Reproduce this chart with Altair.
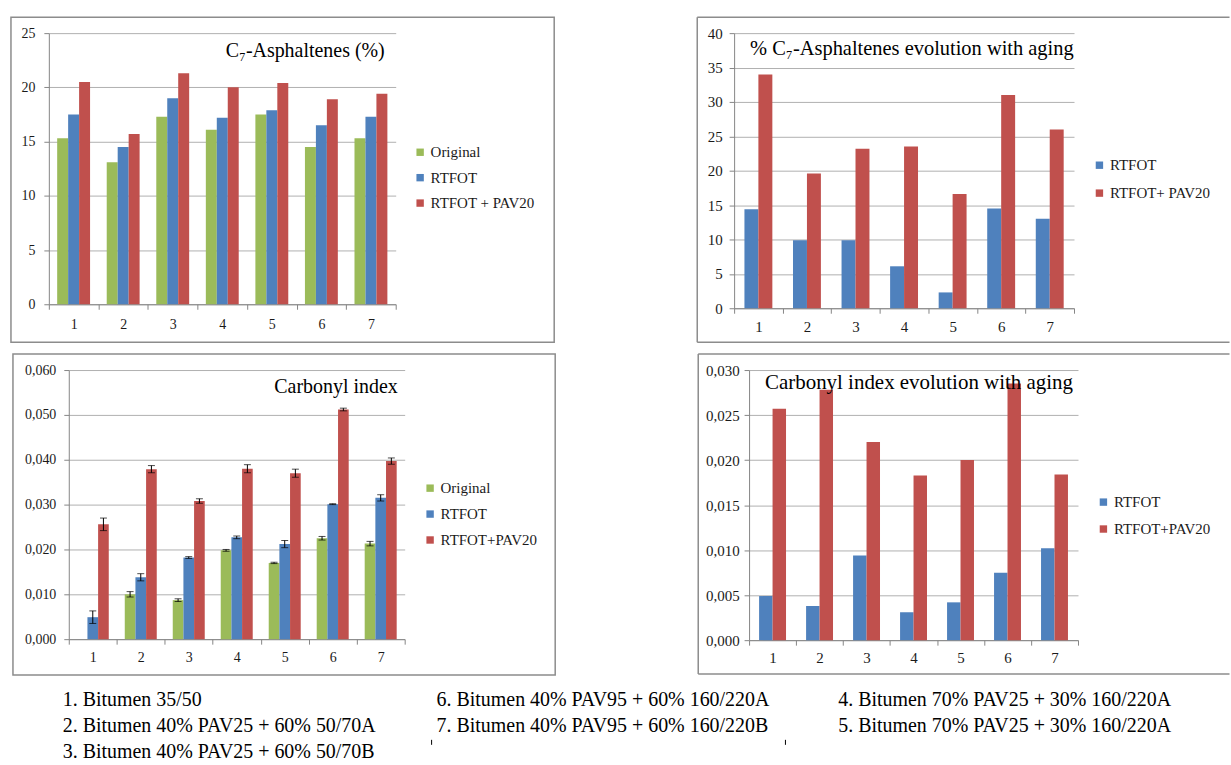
import altair as alt
import pandas as pd

samples = ["1", "2", "3", "4", "5", "6", "7"]

# Top-left: C7-Asphaltenes (%)
asph_series = ["Original", "RTFOT", "RTFOT + PAV20"]
asph_original = [15.3, 13.1, 17.3, 16.1, 17.5, 14.5, 15.3]
asph_rtfot = [17.5, 14.5, 19.0, 17.2, 17.9, 16.5, 17.3]
asph_pav = [20.5, 15.7, 21.3, 20.0, 20.4, 18.9, 19.4]

# Top-right: % C7-Asphaltenes evolution with aging
evo_series = ["RTFOT", "RTFOT+ PAV20"]
evo_rtfot = [14.4, 9.9, 9.9, 6.1, 2.3, 14.5, 13.0]
evo_pav = [34.0, 19.6, 23.2, 23.5, 16.6, 31.0, 26.0]

# Bottom-left: Carbonyl index (with error bars)
carb_series = ["Original", "RTFOT", "RTFOT+PAV20"]
carb_original = [None, 0.0100, 0.0087, 0.0198, 0.0170, 0.0225, 0.0213]
carb_original_err = [None, 0.0006, 0.0003, 0.0002, 0.00015, 0.0004, 0.0005]
carb_rtfot = [0.0049, 0.0138, 0.0182, 0.0227, 0.0212, 0.0301, 0.0315]
carb_rtfot_err = [0.0014, 0.0008, 0.0002, 0.0003, 0.0008, 0.0001, 0.0007]
carb_pav = [0.0256, 0.0379, 0.0308, 0.0380, 0.0370, 0.0512, 0.0397]
carb_pav_err = [0.0014, 0.0008, 0.0005, 0.0009, 0.0009, 0.0003, 0.0007]

# Bottom-right: Carbonyl index evolution with aging
cevo_series = ["RTFOT", "RTFOT+PAV20"]
cevo_rtfot = [0.0049, 0.0038, 0.0094, 0.0031, 0.0042, 0.0075, 0.0102]
cevo_pav = [0.0257, 0.0278, 0.0220, 0.0183, 0.0200, 0.0285, 0.0184]

# Sample legend below the charts
notes_col1 = ["1. Bitumen 35/50", "2. Bitumen 40% PAV25 + 60% 50/70A", "3. Bitumen 40% PAV25 + 60% 50/70B"]
notes_col2 = ["6. Bitumen 40% PAV95 + 60% 160/220A", "7. Bitumen 40% PAV95 + 60% 160/220B"]
notes_col3 = ["4. Bitumen 70% PAV25 + 30% 160/220A", "5. Bitumen 70% PAV25 + 30% 160/220A"]

GREEN, BLUE, RED = "#9BBB59", "#4F81BD", "#C0504D"
FONT = "Liberation Serif"
FRAME = "#8c8c8c"
AXIS = "#868686"
GRID = "#b0b0b0"
LABEL = "#1a1a1a"


def long_df(series, columns, errs=None):
    rows = []
    for si, (s, vals) in enumerate(zip(series, columns)):
        for i, smp in enumerate(samples):
            r = {"sample": smp, "series": s, "value": vals[i]}
            if errs is not None:
                r["err"] = errs[si][i]
            rows.append(r)
    return pd.DataFrame(rows)


one = pd.DataFrame({"k": [0]})


def panel(df, series, colors, ymax, ystep, label_expr, w, h, off_pad,
          title, tx, ty, talign, tsize, lx, ly, lrow, lsize,
          xlab_size, xlab_pad, ylab_size, ylab_pad, frame, closed, errors=False, shift=0):
    nsteps = int(round(ymax / ystep))
    yvals = [round(i * ystep, 6) for i in range(nsteps + 1)]
    xscale = alt.Scale(paddingInner=0, paddingOuter=0)
    if shift:
        xscale = alt.Scale(paddingInner=0, paddingOuter=0, range=[shift, shift + w])
    x_enc = alt.X("sample:N", sort=samples, title=None, scale=xscale,
                  axis=alt.Axis(labelAngle=0, tickBand="extent", grid=False,
                                domainColor=AXIS, tickColor=AXIS, tickSize=5,
                                labelFont=FONT, labelFontSize=xlab_size, labelColor=LABEL,
                                labelPadding=xlab_pad))
    xo_enc = alt.XOffset("series:N", sort=series,
                         scale=alt.Scale(domain=series, paddingInner=0, paddingOuter=off_pad))
    axis_kw = dict(values=yvals, grid=True, gridColor=GRID, domainColor=AXIS,
                   tickColor=AXIS, tickSize=5, labelFont=FONT, labelFontSize=ylab_size,
                   labelColor=LABEL, labelPadding=ylab_pad)
    if label_expr:
        axis_kw["labelExpr"] = label_expr
    if shift:
        axis_kw["offset"] = -shift
    y_enc = alt.Y("value:Q", title=None, scale=alt.Scale(domain=[0, ymax], nice=False),
                  axis=alt.Axis(**axis_kw))

    base = alt.Chart(df)
    bars = base.mark_bar().encode(
        x=x_enc, xOffset=xo_enc, y=y_enc,
        color=alt.Color("series:N", sort=series,
                        scale=alt.Scale(domain=series, range=colors),
                        legend=alt.Legend(orient="none", legendX=lx, legendY=ly, title=None,
                                          symbolType="square", symbolSize=55, symbolStrokeWidth=0,
                                          labelFont=FONT, labelFontSize=lsize, labelColor=LABEL,
                                          rowPadding=lrow, labelOffset=3, padding=0)),
    )

    fx1, fy1, fx2, fy2 = frame
    layers = []
    if closed:
        layers.append(alt.Chart(one).mark_rect(fill="white", fillOpacity=0, stroke=FRAME,
                                               strokeWidth=1.5).encode(
            x=alt.value(fx1), x2=alt.value(fx2), y=alt.value(fy1), y2=alt.value(fy2)))
    else:
        rule = alt.Chart(one).mark_rule(color=FRAME, strokeWidth=1.5)
        layers.append(rule.encode(x=alt.value(fx1), x2=alt.value(fx2), y=alt.value(fy1)))
        layers.append(rule.encode(x=alt.value(fx1), x2=alt.value(fx2), y=alt.value(fy2)))
        layers.append(rule.encode(x=alt.value(fx1), y=alt.value(fy1), y2=alt.value(fy2)))

    layers.append(bars)

    if errors:
        eb = base.transform_filter("isValid(datum.err) && isValid(datum.value)").transform_calculate(
            lo="datum.value - datum.err", hi="datum.value + datum.err")
        layers.append(eb.mark_rule(color="black", strokeWidth=1).encode(
            x=alt.X("sample:N", sort=samples), xOffset=alt.XOffset("series:N", sort=series),
            y=alt.Y("lo:Q"), y2="hi:Q"))
        for fld in ["lo", "hi"]:
            layers.append(eb.mark_tick(color="black", orient="horizontal", size=7, thickness=1).encode(
                x=alt.X("sample:N", sort=samples), xOffset=alt.XOffset("series:N", sort=series),
                y=alt.Y(f"{fld}:Q")))

    layers.append(alt.Chart(pd.DataFrame({"t": [title]})).mark_text(
        align=talign, baseline="middle", font=FONT, fontSize=tsize, color="black").encode(
        text="t:N", x=alt.value(tx), y=alt.value(ty)))

    return alt.layer(*layers).properties(width=w + shift, height=h)


p1 = panel(long_df(asph_series, [asph_original, asph_rtfot, asph_pav]), asph_series,
           [GREEN, BLUE, RED], 25, 5, None, 348, 272, 0.76,
           "C\u2087-Asphaltenes (%)", 337, 18, "right", 20,
           365, 112, 9.5, 15, 14, 8, 14, 9, (-38, -16, 507, 310), True)

p2 = panel(long_df(evo_series, [evo_rtfot, evo_pav]), evo_series,
           [BLUE, RED], 40, 5, None, 341, 276, 0.74,
           "% C\u2087-Asphaltenes evolution with aging", 16, 16, "left", 20.5,
           359, 125, 12, 15, 15, 6, 15, 7, (-37, -16, 497, 310), False)

p3 = panel(long_df(carb_series, [carb_original, carb_rtfot, carb_pav],
                   [carb_original_err, carb_rtfot_err, carb_pav_err]), carb_series,
           [GREEN, BLUE, RED], 0.06, 0.01, "replace(format(datum.value, '.3f'), '.', ',')",
           337, 270, 0.75,
           "Carbonyl index", 350, 17, "right", 20,
           375, 111, 10, 15, 14, 6, 14, 8, (-36, -16, 508, 306), True, errors=True, shift=20)

p4 = panel(long_df(cevo_series, [cevo_rtfot, cevo_pav]), cevo_series,
           [BLUE, RED], 0.03, 0.005, "replace(format(datum.value, '.3f'), '.', ',')",
           330, 271, 0.745,
           "Carbonyl index evolution with aging", 16, 13, "left", 21,
           348, 125, 11, 15, 15, 5, 15, 5, (-51, -16, 482, 305), False)

notes_layers = []
for col_x, col in [(14, notes_col1), (389, notes_col2), (792, notes_col3)]:
    ndf = pd.DataFrame({"note": col, "row": list(range(len(col)))})
    notes_layers.append(alt.Chart(ndf).mark_text(
        align="left", baseline="middle", font=FONT, fontSize=20, color="black").encode(
        text="note:N", x=alt.value(col_x),
        y=alt.Y("row:Q", scale=alt.Scale(domain=[0, 2], range=[14, 66]), axis=None)))
marks = alt.Chart(one).mark_rule(color="black", strokeWidth=1)
notes_layers.append(marks.encode(x=alt.value(384), y=alt.value(54), y2=alt.value(59)))
notes_layers.append(marks.encode(x=alt.value(739), y=alt.value(54), y2=alt.value(59)))
notes = alt.layer(*notes_layers).properties(width=1100, height=70)

res = dict(color="independent", xOffset="independent", x="independent", y="independent")
top = alt.hconcat(p1, p2, spacing=139.5).resolve_scale(**res)
bottom = alt.hconcat(p3, p4, spacing=139.5).resolve_scale(**res)
chart = alt.vconcat(top, bottom, notes, spacing=8).resolve_scale(**res).properties(
    padding={"left": 9, "top": 14, "right": 0, "bottom": 0}, background="white"
).configure(font=FONT).configure_axis(labelFont=FONT).configure_legend(
    labelFont=FONT).configure_view(stroke="transparent")

chart.save("out.html", embed_options={"renderer": "svg", "actions": False})
